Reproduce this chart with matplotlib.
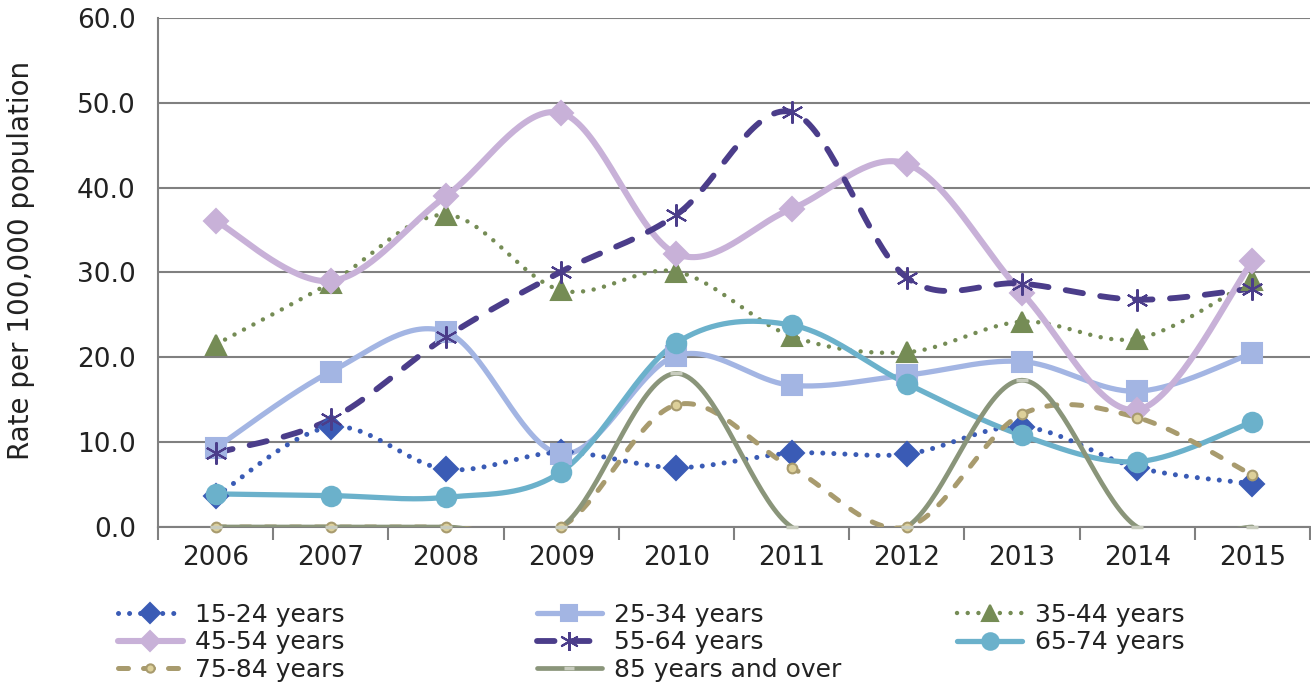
import numpy as np
import matplotlib
matplotlib.use('Agg')
import matplotlib.pyplot as plt
from matplotlib.lines import Line2D

plt.rcParams['font.family'] = ['DejaVu Sans']

YEARS = ['2006', '2007', '2008', '2009', '2010', '2011', '2012', '2013', '2014', '2015']

AGE_15_24 = [3.6, 11.8, 6.8, 8.8, 7.0, 8.7, 8.6, 11.8, 7.0, 5.1]
AGE_25_34 = [9.3, 18.3, 23.0, 8.6, 20.2, 16.7, 17.9, 19.5, 16.0, 20.5]
AGE_35_44 = [21.5, 28.8, 36.8, 27.9, 30.1, 22.5, 20.6, 24.2, 22.2, 29.1]
AGE_45_54 = [36.1, 29.0, 39.0, 48.8, 32.2, 37.5, 42.8, 27.6, 13.8, 31.3]
AGE_55_64 = [8.7, 12.7, 22.4, 30.1, 36.8, 48.9, 29.4, 28.7, 26.8, 28.1]
AGE_65_74 = [3.9, 3.7, 3.5, 6.5, 21.7, 23.8, 16.9, 10.8, 7.7, 12.4]
AGE_75_84 = [0.0, 0.0, 0.0, 0.0, 14.4, 7.0, 0.0, 13.3, 12.9, 6.1]
AGE_85_UP = [0.0, 0.0, 0.0, 0.0, 18.1, 0.0, 0.0, 17.3, 0.0, 0.0]

LABELS = ['15-24 years', '25-34 years', '35-44 years', '45-54 years',
          '55-64 years', '65-74 years', '75-84 years', '85 years and over']

# style per series: colour, linestyle, linewidth, marker, marker size, face, edge
STYLES = [
    dict(color='#3a5bb5', ls=(0, (0.01, 2.2)), lw=3.6, marker='D', ms=12, mfc='#3a5bb5', mec='#3a5bb5'),
    dict(color='#a3b5e3', ls='-', lw=3.8, marker='s', ms=14, mfc='#a3b5e3', mec='#a3b5e3'),
    dict(color='#758c55', ls=(0, (0.01, 2.4)), lw=3.2, marker='^', ms=14, mfc='#758c55', mec='#758c55'),
    dict(color='#c8b1d8', ls='-', lw=4.4, marker='D', ms=12, mfc='#c8b1d8', mec='#c8b1d8'),
    dict(color='#4b3d8a', ls=(0, (3.0, 3.0)), lw=4.2, marker=(6, 2, 0), ms=16, mfc='#4b3d8a', mec='#4b3d8a'),
    dict(color='#6bb1cb', ls='-', lw=3.8, marker='o', ms=14, mfc='#6bb1cb', mec='#6bb1cb'),
    dict(color='#a89b6e', ls=(0, (2.0, 3.0)), lw=3.6, marker='o', ms=7, mfc='#ddd09a', mec='#a89b6e'),
    dict(color='#8a957a', ls='-', lw=3.4, marker='_', ms=8, mfc='#c8ccbe', mec='#c8ccbe'),
]

TEXT = '#222222'
GRID = '#808080'


def smooth(xs, ys, steps=40):
    # excel-like smoothing: catmull-rom as cubic bezier
    pts = np.column_stack([xs, ys]).astype(float)
    n = len(pts)
    out = []
    for i in range(n - 1):
        p0 = pts[max(i - 1, 0)]
        p1 = pts[i]
        p2 = pts[i + 1]
        p3 = pts[min(i + 2, n - 1)]
        c1 = p1 + (p2 - p0) / 6
        c2 = p2 - (p3 - p1) / 6
        t = np.linspace(0, 1, steps)[:, None]
        seg = ((1 - t) ** 3) * p1 + 3 * ((1 - t) ** 2) * t * c1 + 3 * (1 - t) * t ** 2 * c2 + t ** 3 * p2
        out.append(seg if i == 0 else seg[1:])
    seg = np.vstack(out)
    return seg[:, 0], seg[:, 1]


def main():
    fig = plt.figure(figsize=(13.11, 6.86), dpi=100)
    ax = fig.add_axes([0.1205, 0.2318, 0.8787, 0.742])

    series = [AGE_15_24, AGE_25_34, AGE_35_44, AGE_45_54,
              AGE_55_64, AGE_65_74, AGE_75_84, AGE_85_UP]
    x = np.arange(len(YEARS))
    handles = []
    for values, label, st in zip(series, LABELS, STYLES):
        sx, sy = smooth(x, values)
        mew = 1.5 if st['marker'] != '_' else 2.5
        ax.plot(sx, sy, color=st['color'], ls=st['ls'], lw=st['lw'],
                dash_capstyle='round', solid_capstyle='round', zorder=3)
        ax.plot(x, values, ls='none', marker=st['marker'], ms=st['ms'],
                mfc=st['mfc'], mec=st['mec'], mew=mew, clip_on=False, zorder=4)
        handles.append(Line2D([], [], color=st['color'], ls=st['ls'], lw=st['lw'],
                              dash_capstyle='round', solid_capstyle='round',
                              marker=st['marker'], ms=st['ms'] * 0.85, mfc=st['mfc'],
                              mec=st['mec'], mew=mew, label=label))

    ax.set_xlim(-0.5, len(YEARS) - 0.5)
    ax.set_ylim(0, 60)
    ax.set_yticks(np.arange(0, 61, 10))
    ax.set_yticklabels(['%.1f' % v for v in np.arange(0, 61, 10)])
    ax.set_xticks(x)
    ax.set_xticklabels(YEARS)
    ax.set_xticks(np.arange(-0.5, len(YEARS), 1.0), minor=True)
    ax.tick_params(axis='x', which='major', length=0, pad=13, labelsize=19, labelcolor=TEXT)
    ax.tick_params(axis='x', which='minor', length=9, width=1.5, color=GRID)
    ax.tick_params(axis='y', length=0, pad=16, labelsize=19, labelcolor=TEXT)
    ax.grid(axis='y', color=GRID, lw=1.5, zorder=0)
    ax.set_axisbelow(True)
    for side in ['top', 'right']:
        ax.spines[side].set_visible(False)
    for side in ['left', 'bottom']:
        ax.spines[side].set_color(GRID)
        ax.spines[side].set_linewidth(1.5)
    ax.set_ylabel('Rate per 100,000 population', fontsize=20, color=TEXT)
    ax.yaxis.set_label_coords(-0.107, 0.523)

    columns = [[0, 3, 6], [1, 4, 7], [2, 5]]
    lefts = [0.090, 0.4096, 0.730]
    for col, left in zip(columns, lefts):
        leg = fig.legend(handles=[handles[i] for i in col], loc='upper left',
                         bbox_to_anchor=(left, 0.121), frameon=False, fontsize=18,
                         handlelength=2.6, handletextpad=0.5, labelspacing=0.14,
                         borderaxespad=0, borderpad=0)
        for t in leg.get_texts():
            t.set_color(TEXT)

    fig.savefig('out.png', dpi=100)


if __name__ == '__main__':
    main()
